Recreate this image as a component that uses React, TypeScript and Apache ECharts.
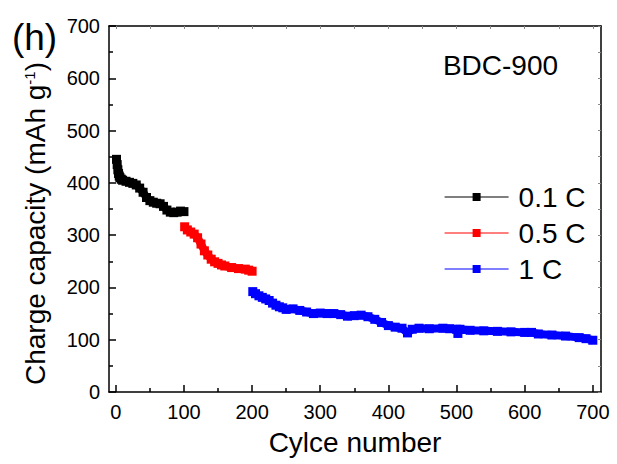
import React, { useEffect, useRef } from "react";
import * as echarts from "echarts";

// ---- data ----
const seriesNames = ["0.1 C", "0.5 C", "1 C"];

const cyclesA = [1, 2, 3, 4, 5, 6, 8, 10, 15, 20, 25, 30, 35, 40, 45, 50, 55, 60, 65, 70, 75, 80, 85, 90, 95, 100];
const capA = [445, 435, 425, 418, 413, 410, 407, 405, 403, 401, 399, 396, 390, 382, 372, 366, 363, 361, 360, 355, 348, 344, 343, 344, 346, 345];

const cyclesB = [101, 105, 110, 115, 120, 125, 130, 135, 140, 145, 150, 155, 160, 170, 180, 190, 195, 200];
const capB = [316, 310, 306, 302, 295, 283, 270, 262, 254, 249, 246, 243, 241, 238, 236, 235, 233, 231];

const cyclesC = [201, 205, 210, 215, 220, 225, 230, 235, 240, 245, 250, 260, 270, 280, 290, 300, 310, 320, 330, 340, 350, 360, 370, 380, 390, 400, 410, 420, 428, 435, 445, 460, 480, 490, 500, 502, 505, 520, 540, 560, 580, 600, 610, 620, 640, 660, 680, 690, 700];
const capC = [192, 188, 184, 181, 178, 175, 170, 166, 163, 161, 158, 159, 156, 153, 150, 151, 150, 150, 148, 145, 146, 147, 144, 139, 133, 127, 124, 122, 113, 120, 122, 121, 122, 121, 120, 112, 120, 118, 117, 116, 115, 114, 114, 111, 109, 107, 104, 102, 99];

const xMajorTicks = [0, 100, 200, 300, 400, 500, 600, 700];
const xMinorTicks = [50, 150, 250, 350, 450, 550, 650];
const xTopTicks = [0, 50, 100, 150, 200, 250, 300, 350, 400, 450, 500, 550, 600, 650, 700];

const FONT = "'Liberation Sans', Arial, sans-serif";

export default function App() {
  const ref = useRef<HTMLDivElement>(null);

  useEffect(() => {
    if (!ref.current) return;
    const chart = echarts.init(ref.current, null, { renderer: "svg" });
    const toPairs = (xs: number[], ys: number[]) => xs.map((x, i) => [x, ys[i]]);
    const colors = ["#000000", "#ff0000", "#0000ff"];
    const datasets = [toPairs(cyclesA, capA), toPairs(cyclesB, capB), toPairs(cyclesC, capC)];

    const axisLineStyle = { color: "#000", width: 1.5 };

    chart.setOption({
      animation: false,
      textStyle: { fontFamily: FONT },
      grid: { left: 109, right: 16, top: 26, bottom: 72 },
      xAxis: [
        {
          type: "value",
          position: "bottom",
          min: -10,
          max: 712,
          name: "Cylce number",
          nameLocation: "middle",
          nameGap: 36,
          nameTextStyle: { fontSize: 28, color: "#000", fontFamily: FONT },
          axisLine: { show: true, onZero: false, lineStyle: axisLineStyle },
          axisTick: { show: true, inside: true, length: 7, customValues: xMajorTicks, lineStyle: { color: "#000", width: 1.5 } },
          axisLabel: { customValues: xMajorTicks, fontSize: 20, color: "#000", margin: 10, fontFamily: FONT },
          splitLine: { show: false },
        },
        {
          type: "value",
          position: "bottom",
          min: -10,
          max: 712,
          axisLine: { show: false, onZero: false },
          axisTick: { show: true, inside: true, length: 4, customValues: xMinorTicks, lineStyle: { color: "#000", width: 1.5 } },
          axisLabel: { show: false },
          splitLine: { show: false },
        },
        {
          type: "value",
          position: "top",
          min: -10,
          max: 712,
          axisLine: { show: true, onZero: false, lineStyle: axisLineStyle },
          axisTick: { show: true, inside: true, length: 3, customValues: xTopTicks, lineStyle: { color: "#888", width: 1 } },
          axisLabel: { show: false },
          splitLine: { show: false },
        },
      ],
      yAxis: [
        {
          type: "value",
          position: "left",
          min: 0,
          max: 700,
          interval: 100,
          axisLine: { show: true, onZero: false, lineStyle: axisLineStyle },
          axisTick: { show: true, inside: true, length: 7, lineStyle: { color: "#000", width: 1.5 } },
          minorTick: { show: true, splitNumber: 2, length: 4, lineStyle: { color: "#000", width: 1.5 } },
          axisLabel: { fontSize: 20, color: "#000", margin: 9, fontFamily: FONT },
          splitLine: { show: false },
          minorSplitLine: { show: false },
        },
        {
          type: "value",
          position: "right",
          min: 0,
          max: 700,
          interval: 50,
          axisLine: { show: true, onZero: false, lineStyle: axisLineStyle },
          axisTick: { show: true, inside: true, length: 3, lineStyle: { color: "#888", width: 1 } },
          axisLabel: { show: false },
          splitLine: { show: false },
        },
      ],
      legend: {
        orient: "vertical",
        left: 444,
        top: 183,
        padding: 0,
        itemWidth: 64,
        itemHeight: 10,
        itemGap: 8,
        data: seriesNames,
        lineStyle: { width: 1.2, color: "inherit" },
        textStyle: { fontSize: 28, color: "#000", fontFamily: FONT, lineHeight: 28, padding: [0, 0, 0, 5] },
      },
      graphic: [
        {
          type: "text",
          x: 34.5,
          y: 37,
          style: { text: "(h)", fontSize: 37, fontFamily: FONT, fill: "#000", textAlign: "center", textVerticalAlign: "middle" },
        },
        {
          type: "text",
          x: 500.5,
          y: 65,
          style: { text: "BDC-900", fontSize: 28, fontFamily: FONT, fill: "#000", textAlign: "center", textVerticalAlign: "middle" },
        },
        {
          type: "text",
          x: 35.5,
          y: 223.5,
          rotation: Math.PI / 2,
          style: {
            text: "{a|Charge capacity (mAh g}{s|-1}{a|)}",
            fontFamily: FONT,
            fill: "#000",
            textAlign: "center",
            textVerticalAlign: "middle",
            rich: {
              a: { fontSize: 28, lineHeight: 28, fontFamily: FONT, fill: "#000" },
              s: { fontSize: 15, lineHeight: 15, fontFamily: FONT, fill: "#000", verticalAlign: "top" },
            },
          },
        },
      ],
      series: seriesNames.map((name, i) => ({
        name,
        type: "line",
        xAxisIndex: 0,
        yAxisIndex: 0,
        data: datasets[i],
        symbol: "rect",
        symbolSize: 9,
        showSymbol: true,
        color: colors[i],
        itemStyle: { color: colors[i] },
        lineStyle: { color: colors[i], width: 8, join: "round" },
      })),
    });

    return () => chart.dispose();
  }, []);

  return (
    <div
      ref={ref}
      style={{ position: "fixed", left: 0, top: 0, width: 617, height: 464, background: "#fff" }}
    />
  );
}
